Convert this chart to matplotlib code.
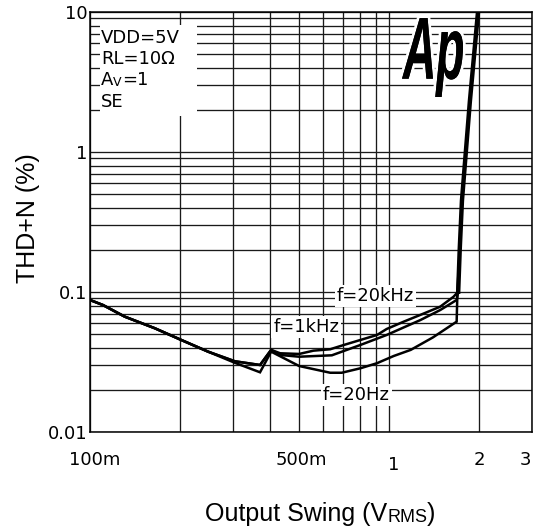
# THD+N vs output swing, three test frequencies (log-log, datasheet style).

import matplotlib
matplotlib.use("Agg")
import matplotlib.pyplot as plt
import matplotlib.patheffects as pe
from matplotlib.font_manager import FontProperties
from matplotlib.patches import PathPatch, Rectangle
from matplotlib.textpath import TextPath
from matplotlib.ticker import FixedLocator, LogLocator, NullFormatter
from matplotlib.transforms import Affine2D, IdentityTransform, ScaledTranslation

x_20khz = [0.1, 0.1105, 0.1306, 0.1646, 0.202, 0.248, 0.305, 0.370, 0.403,
           0.432, 0.50, 0.558, 0.635, 0.704, 0.80, 0.91, 0.98, 1.118, 1.27,
           1.48, 1.64, 1.70, 1.72, 1.75, 1.86, 1.98]
y_20khz = [0.0877, 0.0807, 0.0667, 0.0551, 0.0454, 0.0375, 0.0320, 0.0301,
           0.0386, 0.0365, 0.0361, 0.0381, 0.0390, 0.0418, 0.0454, 0.0493,
           0.0544, 0.0614, 0.0686, 0.0785, 0.0925, 0.1005, 0.20, 0.45, 2.3, 10]

x_1khz = [0.1, 0.1105, 0.1306, 0.1646, 0.202, 0.248, 0.305, 0.370, 0.403,
          0.432, 0.50, 0.643, 0.80, 0.98, 1.27, 1.48, 1.68, 1.70, 1.72, 1.75,
          1.86, 1.98]
y_1khz = [0.0877, 0.0807, 0.0667, 0.0551, 0.0454, 0.0375, 0.0320, 0.0301,
          0.0386, 0.0355, 0.0345, 0.0353, 0.0418, 0.0493, 0.0630, 0.0743,
          0.0877, 0.1005, 0.20, 0.45, 2.3, 10]

x_20hz = [0.1, 0.1105, 0.1306, 0.1646, 0.202, 0.248, 0.305, 0.370, 0.403,
          0.50, 0.635, 0.694, 0.80, 0.91, 1.035, 1.18, 1.40, 1.68, 1.69,
          1.72, 1.75, 1.86, 1.98]
y_20hz = [0.0877, 0.0807, 0.0667, 0.0551, 0.0454, 0.0375, 0.0312, 0.0267,
          0.0375, 0.0296, 0.0265, 0.0265, 0.0285, 0.0310, 0.0349, 0.0386,
          0.0474, 0.0614, 0.1005, 0.20, 0.45, 2.3, 10]

x_ticks = [0.1, 0.5, 1, 2, 3]
x_tick_labels = ["100m", "500m", "1", "2", "3"]
y_ticks = [0.01, 0.1, 1, 10]
y_tick_labels = ["0.01", "0.1", "1", "10"]

conditions = ["VDD=5V", "RL=10\u03a9", "A", "SE"]

W, H = 535, 529
fig = plt.figure(figsize=(W / 100, H / 100), dpi=100)
ax = fig.add_axes([90 / W, (H - 432) / H, 442 / W, 420 / H])

ax.set_xscale("log")
ax.set_yscale("log")
ax.set_xlim(0.1, 3)
ax.set_ylim(0.01, 10)

for xs, ys in [(x_20hz, y_20hz), (x_1khz, y_1khz), (x_20khz, y_20khz)]:
    ax.plot(xs, ys, color="black", lw=1.8, solid_joinstyle="miter", zorder=3)
# clipping spike where all three merge
ax.plot(x_20khz[-5:], y_20khz[-5:], color="black", lw=3.2, zorder=3)

ax.xaxis.set_major_locator(FixedLocator(x_ticks))
ax.set_xticklabels(x_tick_labels)
ax.xaxis.set_minor_locator(LogLocator(base=10, subs=range(2, 10)))
ax.xaxis.set_minor_formatter(NullFormatter())
ax.yaxis.set_major_locator(FixedLocator(y_ticks))
ax.set_yticklabels(y_tick_labels)
ax.yaxis.set_minor_locator(LogLocator(base=10, subs=range(2, 10)))
ax.yaxis.set_minor_formatter(NullFormatter())

ax.tick_params(which="both", length=0, labelsize=13, colors="black")
ax.tick_params(axis="x", pad=14)
ax.tick_params(axis="y", pad=2)
ax.grid(True, which="both", color="#1a1a1a", lw=0.95)
for s in ax.spines.values():
    s.set_linewidth(1.1)

# the datasheet nudges a few tick labels
nudges = {"100m": (5, 0), "500m": (2, 0), "1": (4, -5), "3": (-7, 0)}
for lab in ax.get_xticklabels():
    dx, dy = nudges.get(lab.get_text(), (0, 0))
    lab.set_transform(lab.get_transform()
                      + ScaledTranslation(dx / 100, dy / 100, fig.dpi_scale_trans))

ax.set_ylabel("THD+N (%)", fontfamily="Liberation Sans", fontsize=18)
ax.yaxis.set_label_coords(-0.113, 0.51)

# x label with small RMS
t1 = fig.text(205 / W, 8 / H, "Output Swing (V", fontfamily="Liberation Sans",
              fontsize=18, va="baseline", ha="left")
rms = ax.annotate("RMS", xy=(1, 0), xycoords=t1, va="bottom", ha="left",
                  fontfamily="Liberation Sans", fontsize=13, annotation_clip=False)
ax.annotate(")", xy=(1, 0), xycoords=rms, va="bottom", ha="left",
            fontfamily="Liberation Sans", fontsize=18, annotation_clip=False)

# conditions box
ax.add_patch(Rectangle((10 / 442, (432 - 116) / 420), 97 / 442, 91 / 420,
                       transform=ax.transAxes, facecolor="white",
                       edgecolor="none", zorder=2))
base_y = [0.926, 0.876, 0.826, 0.774]
for txt, yy in zip(conditions, base_y):
    t = ax.text(0.0249, yy, txt, transform=ax.transAxes, fontsize=13,
                va="baseline", ha="left", zorder=4)
    if txt == "A":
        av = ax.annotate("V", xy=(1, 0), xycoords=t, va="bottom", ha="left",
                         fontsize=9, zorder=4)
        ax.annotate("=1", xy=(1, 0), xycoords=av, va="bottom", ha="left",
                    fontsize=13, zorder=4)

# curve labels
box = dict(facecolor="white", edgecolor="none", pad=1.5)
ax.text(0.899, 0.0936, "f=20kHz", fontsize=13, ha="center", va="center", bbox=box, zorder=4)
ax.text(0.528, 0.0562, "f=1kHz", fontsize=13, ha="center", va="center", bbox=box, zorder=4)
ax.text(0.776, 0.0184, "f=20Hz", fontsize=13, ha="center", va="center", bbox=box, zorder=4)

# Ap logo
tp = TextPath((0, 0), "Ap", size=100,
              prop=FontProperties(family="Liberation Sans", weight="bold", style="italic"))
ext = tp.get_extents()
logo_tr = (Affine2D().translate(-ext.x0, -ext.y0)
           .scale(61 / ext.width, 79 / ext.height).translate(402, H - 97))
logo = PathPatch(logo_tr.transform_path(tp), transform=IdentityTransform(),
                 facecolor="black", edgecolor="none", zorder=6,
                 path_effects=[pe.withStroke(linewidth=4, foreground="white"), pe.Normal()])
fig.add_artist(logo)

fig.savefig("out.png", dpi=100)
